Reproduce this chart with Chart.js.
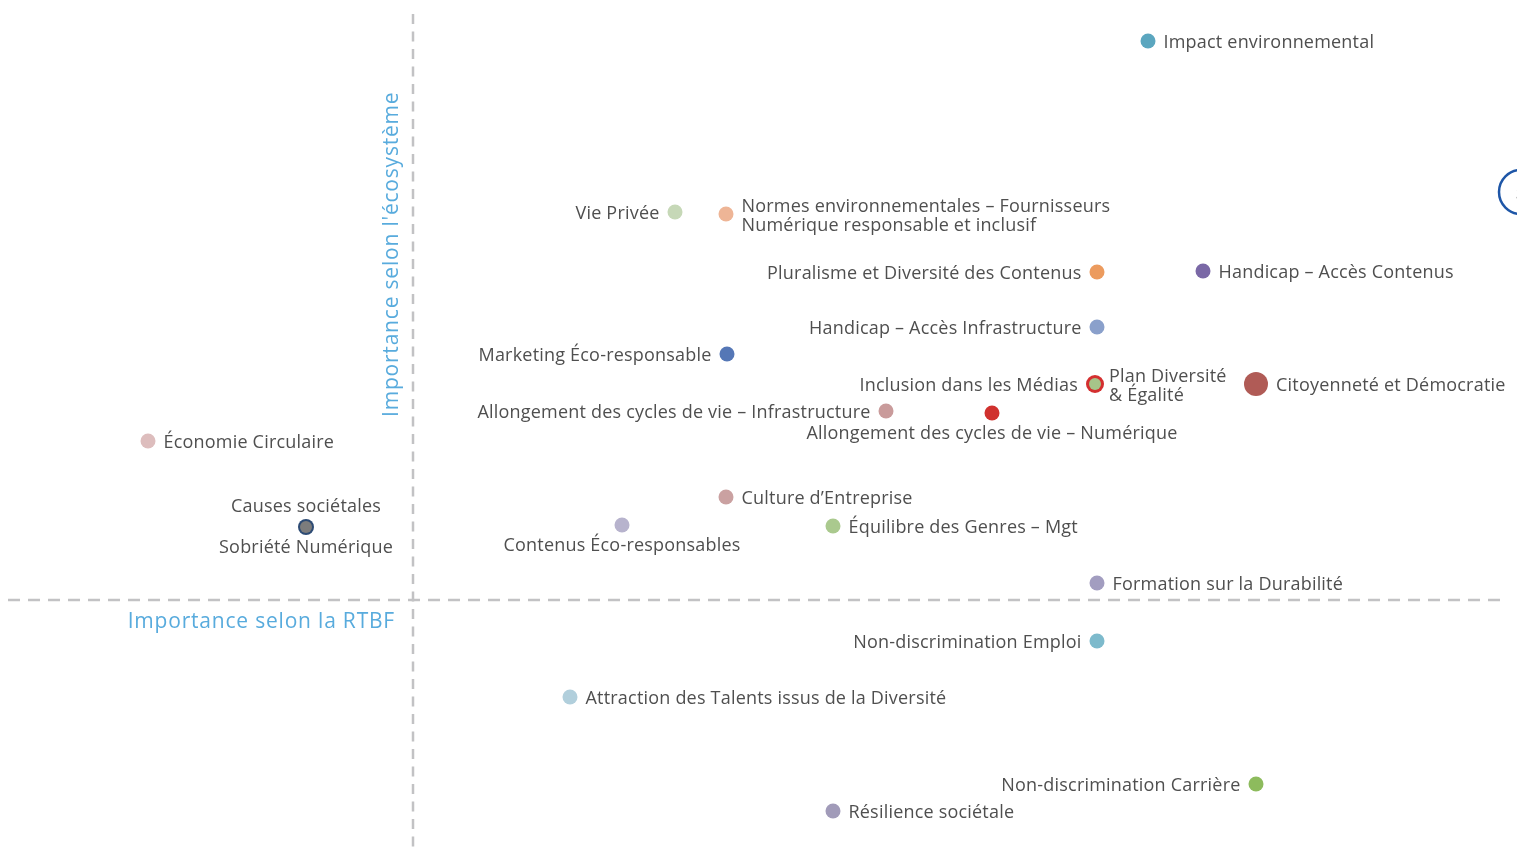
<!DOCTYPE html>
<html lang="fr">
<head>
<meta charset="utf-8">
<title>Matrice de matérialité</title>
<script src="https://cdn.jsdelivr.net/npm/chart.js@4.4.1/dist/chart.umd.min.js"></script>
<style>
  html, body { margin: 0; padding: 0; background: #ffffff; overflow: hidden; }
  #wrap { position: relative; width: 1517px; height: 848px; }
</style>
</head>
<body>
<div id="wrap"><canvas id="matrix"></canvas></div>
<script>
// Enjeux (one entry per point)
const topics = [
  "Impact environnemental",
  "Vie Privée",
  "Normes environnementales – Fournisseurs\nNumérique responsable et inclusif",
  "Pluralisme et Diversité des Contenus",
  "Handicap – Accès Contenus",
  "Handicap – Accès Infrastructure",
  "Marketing Éco-responsable",
  "Inclusion dans les Médias",
  "Plan Diversité\n& Égalité",
  "Citoyenneté et Démocratie",
  "Allongement des cycles de vie – Infrastructure",
  "Allongement des cycles de vie – Numérique",
  "Économie Circulaire",
  "Culture d’Entreprise",
  "Causes sociétales",
  "Sobriété Numérique",
  "Contenus Éco-responsables",
  "Équilibre des Genres – Mgt",
  "Formation sur la Durabilité",
  "Non-discrimination Emploi",
  "Attraction des Talents issus de la Diversité",
  "Non-discrimination Carrière",
  "Résilience sociétale"
];

// Importance selon la RTBF (horizontal)
const rtbfScore = [7.35, 2.62, 3.13, 6.84, 7.90, 6.84, 3.14, 6.82, 6.82, 8.43, 4.73, 5.79,
                   -2.65, 3.13, -1.07, -1.07, 2.09, 4.20, 6.84, 6.84, 1.57, 8.43, 4.20];

// Importance selon l'écosystème (vertical)
const ecoScore = [5.59, 3.88, 3.86, 3.28, 3.29, 2.73, 2.46, 2.16, 2.16, 2.16, 1.89, 1.87,
                  1.59, 1.03, 0.73, 0.73, 0.75, 0.74, 0.17, -0.41, -0.97, -1.84, -2.11];

// Page marker
const pageNumber = ["5"];

// ---- styling ----
const dotColors = ["#5ba6bf", "#c6d8b7", "#eeb596", "#ec9b5e", "#7a68a6", "#8aa0cb", "#5577b6",
                   "#d42f2f", "#a6c489", "#b05b56", "#c99b9b", "#d0312e", "#ddbdbd", "#caa1a1",
                   "#2d4b74", "#7c7c7c", "#b7b3cd", "#aac98e", "#a29dc0", "#7dbacc", "#b1cfdc",
                   "#8dbb5d", "#a19bb9"];
const dotRadius = [7.5, 7.5, 7.5, 7.5, 7.5, 7.5, 7.5, 9, 6, 12, 7.5, 7.5,
                   7.5, 7.5, 8, 6, 7.5, 7.5, 7.5, 7.5, 7.5, 7.5, 7.5];
// where each label sits relative to its dot
const labelSide = ["right", "left", "right", "left", "right", "left", "left", "left", "right", "right",
                   "left", "below", "right", "right", "above", "below", "below", "right", "right",
                   "left", "right", "left", "right"];

const FONT = '"Open Sans", "Noto Sans", sans-serif';
const TEXT = "#4f4f4f";
const AXIS_BLUE = "#58abdd";

const points = rtbfScore.map((x, i) => ({ x, y: ecoScore[i] }));

const quadrantLines = {
  id: "quadrantLines",
  beforeDatasetsDraw(chart) {
    const { ctx, chartArea, scales } = chart;
    const x0 = scales.x.getPixelForValue(0);
    const y0 = scales.y.getPixelForValue(0);
    ctx.save();
    ctx.strokeStyle = "#c2c2c4";
    ctx.lineWidth = 2.5;
    ctx.setLineDash([12, 8]);
    ctx.beginPath();
    ctx.moveTo(chartArea.left, y0);
    ctx.lineTo(chartArea.right, y0);
    ctx.stroke();
    ctx.setLineDash([10, 7.5]);
    ctx.beginPath();
    ctx.moveTo(x0, chartArea.top);
    ctx.lineTo(x0, chartArea.bottom);
    ctx.stroke();

    // axis titles
    ctx.setLineDash([]);
    ctx.fillStyle = AXIS_BLUE;
    ctx.font = "21px " + FONT;
    ctx.letterSpacing = "0.8px";
    ctx.textBaseline = "middle";
    ctx.textAlign = "right";
    ctx.fillText("Importance selon la RTBF", x0 - 18, y0 + 22);
    ctx.translate(x0 - 21, y0 - 183);
    ctx.rotate(-Math.PI / 2);
    ctx.textAlign = "left";
    ctx.fillText("Importance selon l'écosystème", 0, 0);
    ctx.restore();
  }
};

const dotLabels = {
  id: "dotLabels",
  afterDatasetsDraw(chart) {
    const { ctx } = chart;
    const meta = chart.getDatasetMeta(0);
    ctx.save();
    ctx.font = "18px " + FONT;
    ctx.letterSpacing = "0.2px";
    ctx.fillStyle = TEXT;
    const lh = 19;
    meta.data.forEach((el, i) => {
      const lines = topics[i].split("\n");
      const side = labelSide[i];
      const r = dotRadius[i];
      let x = el.x, y = el.y;
      ctx.textBaseline = "middle";
      if (side === "right" || side === "left") {
        ctx.textAlign = side === "right" ? "left" : "right";
        x += side === "right" ? r + 8 : -(r + 8);
        const startY = y - (lines.length - 1) * lh / 2 + 2;
        lines.forEach((ln, k) => ctx.fillText(ln, x, startY + k * lh));
      } else {
        ctx.textAlign = "center";
        const dy = side === "above" ? -20 : 21;
        lines.forEach((ln, k) => ctx.fillText(ln, x, y + dy + k * lh));
      }
    });

    // page marker number
    const badge = chart.getDatasetMeta(1).data[0];
    ctx.font = "20px " + FONT;
    ctx.letterSpacing = "0px";
    ctx.fillStyle = "#8a8a8a";
    ctx.textAlign = "center";
    ctx.fillText(pageNumber[0], badge.x, badge.y + 1);
    ctx.restore();
  }
};

new Chart(document.getElementById("matrix"), {
  type: "scatter",
  data: {
    datasets: [
      {
        label: "Enjeux",
        data: points,
        pointBackgroundColor: dotColors,
        pointBorderWidth: 0,
        pointRadius: dotRadius,
        clip: false
      },
      {
        label: "Page",
        data: [{ x: 11.08, y: 4.08 }],
        pointBackgroundColor: "#ffffff",
        pointBorderColor: "#1e56a7",
        pointBorderWidth: 2.5,
        pointRadius: 22,
        clip: false
      }
    ]
  },
  options: {
    responsive: true,
    maintainAspectRatio: false,
    animation: false,
    events: [],
    layout: { autoPadding: false, padding: { left: 8, right: 17, top: 14, bottom: 0 } },
    plugins: { legend: { display: false }, tooltip: { enabled: false } },
    scales: {
      x: { type: "linear", min: -4.05, max: 10.87, display: false },
      y: { type: "linear", min: -2.48, max: 5.86, display: false }
    }
  },
  plugins: [quadrantLines, dotLabels]
});
</script>
</body>
</html>
